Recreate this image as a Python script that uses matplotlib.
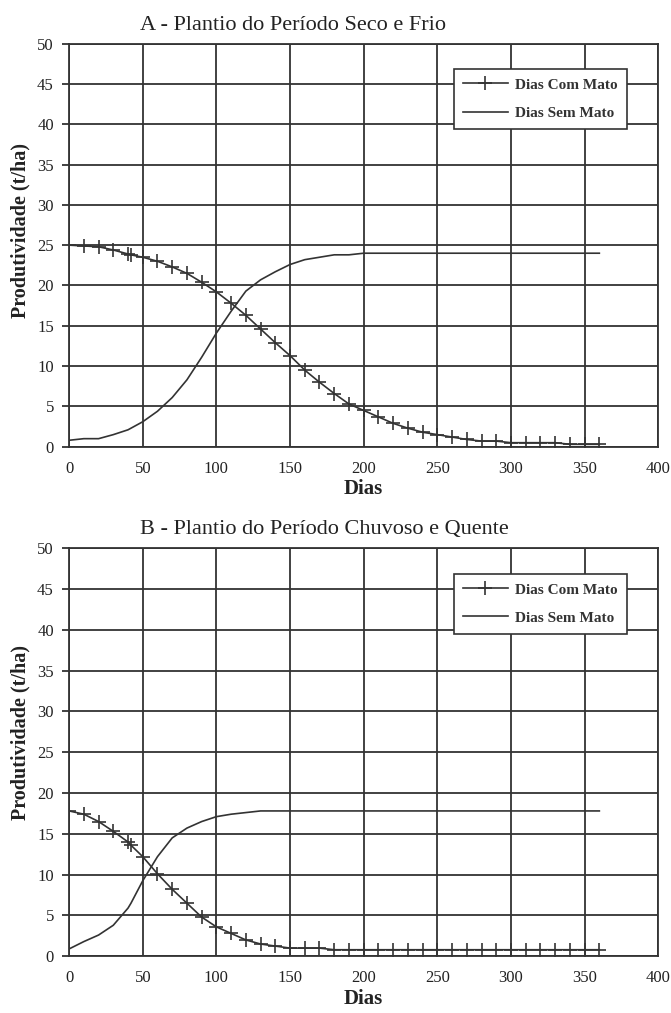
import matplotlib.pyplot as plt

plt.rcParams['font.family'] = ['Liberation Serif', 'DejaVu Serif']

# dias avaliados (0 a 360, de 10 em 10, com a leitura extra aos 42 dias)
dias = [0, 10, 20, 30, 40, 42, 50, 60, 70, 80, 90, 100, 110, 120, 130, 140,
        150, 160, 170, 180, 190, 200, 210, 220, 230, 240, 250, 260, 270,
        280, 290, 300, 310, 320, 330, 340, 350, 360]

# A - periodo seco e frio
a_com_mato = [25.0, 24.9, 24.8, 24.4, 23.9, 23.8, 23.5, 23.0, 22.3, 21.5,
              20.4, 19.2, 17.8, 16.3, 14.6, 12.9, 11.3, 9.5, 8.0, 6.6, 5.3,
              4.5, 3.7, 2.9, 2.3, 1.8, 1.5, 1.2, 0.9, 0.7, 0.7, 0.5, 0.5,
              0.5, 0.5, 0.3, 0.3, 0.3]
a_sem_mato = [0.8, 1.0, 1.0, 1.5, 2.1, 2.3, 3.1, 4.4, 6.1, 8.3, 11.1, 14.1,
              16.8, 19.3, 20.7, 21.7, 22.6, 23.2, 23.5, 23.8, 23.8, 24.0,
              24.0, 24.0, 24.0, 24.0, 24.0, 24.0, 24.0, 24.0, 24.0, 24.0,
              24.0, 24.0, 24.0, 24.0, 24.0, 24.0]

# B - periodo chuvoso e quente
b_com_mato = [17.8, 17.4, 16.5, 15.3, 14.0, 13.6, 12.2, 10.1, 8.2, 6.5, 4.8,
              3.6, 2.8, 2.0, 1.5, 1.25, 1.0, 1.0, 1.0, 0.8, 0.8, 0.8, 0.8,
              0.8, 0.8, 0.8, 0.8, 0.8, 0.8, 0.8, 0.8, 0.8, 0.8, 0.8, 0.8,
              0.8, 0.8, 0.8]
b_sem_mato = [0.9, 1.8, 2.6, 3.8, 5.9, 6.5, 9.25, 12.2, 14.5, 15.7, 16.5,
              17.1, 17.4, 17.6, 17.8, 17.8, 17.8, 17.8, 17.8, 17.8, 17.8,
              17.8, 17.8, 17.8, 17.8, 17.8, 17.8, 17.8, 17.8, 17.8, 17.8,
              17.8, 17.8, 17.8, 17.8, 17.8, 17.8, 17.8]

titulos = ['A - Plantio do Período Seco e Frio',
           'B - Plantio do Período Chuvoso e Quente']

cor = '#333333'


def painel(ax, titulo, com_mato, sem_mato, ylab_y):
    ax.plot(dias, com_mato, color=cor, lw=1.2, marker='+', ms=10, mew=1.2,
            label='Dias Com Mato')
    ax.plot(dias, sem_mato, color=cor, lw=1.2, label='Dias Sem Mato')
    ax.set_xlim(0, 400)
    ax.set_ylim(0, 50)
    ax.set_xticks(range(0, 401, 50))
    ax.set_yticks(range(0, 51, 5))
    ax.grid(True, color=cor, lw=1.3)
    ax.set_axisbelow(True)
    for s in ax.spines.values():
        s.set_color(cor)
        s.set_linewidth(1.3)
    ax.tick_params(axis='y', length=5, width=1.3, color=cor, labelsize=12,
                   labelcolor='#222222', pad=6)
    ax.tick_params(axis='x', length=0, labelsize=12, labelcolor='#222222',
                   pad=10)
    ax.text(0.12, 1.022, titulo, transform=ax.transAxes, ha='left',
            va='bottom', fontsize=16, color='#222222')
    ax.set_xlabel('Dias', fontsize=15, fontweight='bold', color='#222222',
                  labelpad=2)
    ax.set_ylabel('Produtividade (t/ha)', fontsize=14.5, fontweight='bold',
                  color='#222222', labelpad=5, y=ylab_y)
    leg = ax.legend(loc='upper right', bbox_to_anchor=(0.947, 0.937),
                    borderaxespad=0, fontsize=11, fancybox=False,
                    framealpha=1, edgecolor=cor, handlelength=2.9,
                    handletextpad=0.5, borderpad=0.6, labelspacing=0.95)
    leg.get_frame().set_linewidth(1.2)
    for t in leg.get_texts():
        t.set_fontweight('bold')
        t.set_color('#333333')


fig = plt.figure(figsize=(6.71, 10.13), dpi=100)
ax_a = fig.add_axes([0.103, 0.559, 0.878, 0.398])
ax_b = fig.add_axes([0.103, 0.056, 0.878, 0.403])

painel(ax_a, titulos[0], a_com_mato, a_sem_mato, 0.536)
painel(ax_b, titulos[1], b_com_mato, b_sem_mato, 0.549)

fig.savefig('out.png', dpi=100)
